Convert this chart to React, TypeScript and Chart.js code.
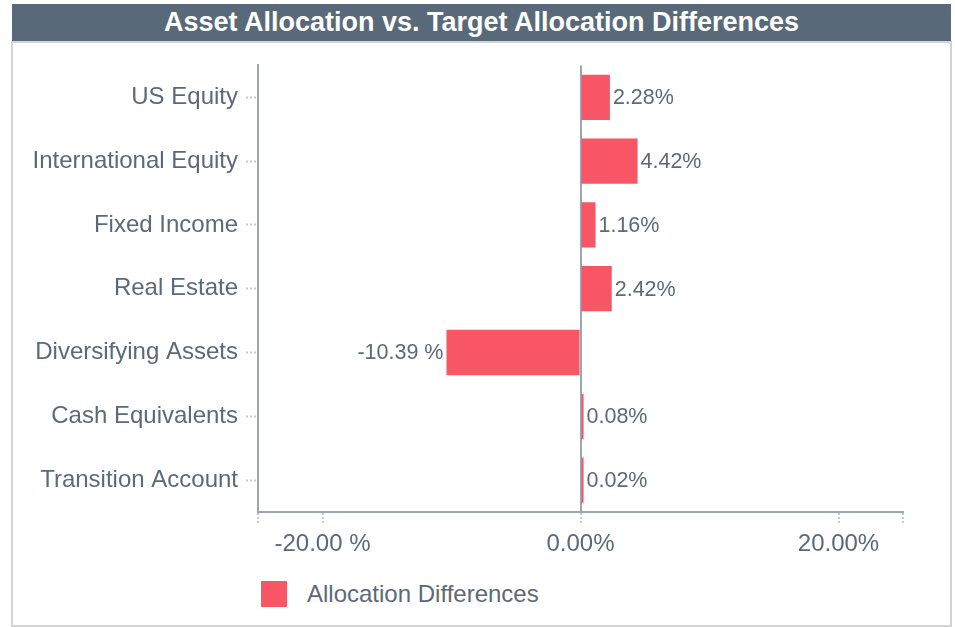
import React, { useEffect, useRef } from "react";
import { Chart, registerables } from "chart.js";

Chart.register(...registerables);

const title = "Asset Allocation vs. Target Allocation Differences";
const categories = [
  "US Equity",
  "International Equity",
  "Fixed Income",
  "Real Estate",
  "Diversifying Assets",
  "Cash Equivalents",
  "Transition Account",
];
const differences = [2.28, 4.42, 1.16, 2.42, -10.39, 0.08, 0.02];
const seriesName = "Allocation Differences";
const xTicks = [-25, -20, 0, 20, 25];
const xLabelled = [-20, 0, 20];

const TEXT = "#5a6a7a";
const BAR = "#f85565";
const AXIS = "#9aa6b2";
const DOT = "#c5cbd1";
const FONT = "Arial, 'Liberation Sans', Helvetica, sans-serif";

const fmt = (v: number) => (v < 0 ? v.toFixed(2) + " %" : v.toFixed(2) + "%");

const valueLabels = {
  id: "valueLabels",
  afterDatasetsDraw(chart: any) {
    const ctx = chart.ctx;
    const meta = chart.getDatasetMeta(0);
    ctx.save();
    ctx.font = `21.5px ${FONT}`;
    ctx.fillStyle = TEXT;
    ctx.textBaseline = "middle";
    meta.data.forEach((el: any, i: number) => {
      const v = differences[i];
      if (v < 0) {
        ctx.textAlign = "right";
        ctx.fillText(fmt(v), el.x - 3, el.y + 1);
      } else {
        ctx.textAlign = "left";
        ctx.fillText(fmt(v), el.x + 3, el.y + 1);
      }
    });
    ctx.restore();
  },
};

export default function App() {
  const ref = useRef<HTMLCanvasElement | null>(null);
  useEffect(() => {
    if (!ref.current) return;
    const chart = new Chart(ref.current, {
      type: "bar",
      data: {
        labels: categories,
        datasets: [
          {
            label: seriesName,
            data: differences,
            backgroundColor: BAR,
            borderWidth: 0,
            categoryPercentage: 0.71,
            barPercentage: 1,
            minBarLength: 3,
          },
        ],
      },
      options: {
        indexAxis: "y",
        animation: false,
        responsive: false,
        maintainAspectRatio: false,
        layout: { padding: { top: 21, right: 47, bottom: 0, left: 0 } },
        plugins: {
          legend: { display: false },
          tooltip: { enabled: false },
          title: { display: false },
        },
        scales: {
          x: {
            type: "linear",
            min: -25,
            max: 25,
            afterBuildTicks: (scale: any) => {
              scale.ticks = xTicks.map((v) => ({ value: v }));
            },
            afterFit: (scale: any) => {
              scale.height = 56;
            },
            border: { display: true, color: AXIS, width: 2 },
            grid: {
              drawOnChartArea: true,
              drawTicks: true,
              color: (c: any) => (c.tick && c.tick.value === 0 ? AXIS : "rgba(0,0,0,0)"),
              lineWidth: 2,
              tickLength: 11,
              tickColor: DOT,
              tickWidth: 2,
              tickBorderDash: [2, 2],
            },
            ticks: {
              autoSkip: false,
              maxRotation: 0,
              padding: 7,
              color: TEXT,
              font: { family: FONT, size: 24 },
              callback: (v: any) =>
                xLabelled.includes(Number(v)) ? fmt(Number(v)) : "",
            },
          },
          y: {
            afterFit: (scale: any) => {
              scale.width = 245;
            },
            border: { display: true, color: AXIS, width: 2 },
            grid: {
              offset: false,
              drawOnChartArea: false,
              drawTicks: true,
              tickLength: 12,
              tickColor: DOT,
              tickWidth: 2,
              tickBorderDash: [2, 2],
            },
            ticks: {
              padding: 8,
              color: TEXT,
              font: { family: FONT, size: 24 },
            },
          },
        },
      },
      plugins: [valueLabels],
    });
    return () => chart.destroy();
  }, []);

  return (
    <div style={{ position: "absolute", left: 0, top: 0, width: 955, height: 627, background: "#fff" }}>
      <div
        style={{
          position: "absolute",
          left: 12,
          top: 4,
          width: 939,
          height: 37,
          background: "#586a7a",
          color: "#fff",
          fontFamily: "'Liberation Sans Narrow', 'Arial Narrow', Arial, sans-serif",
          fontWeight: "bold",
          fontSize: 27,
          lineHeight: "37px",
          textAlign: "center",
          whiteSpace: "nowrap",
        }}
      >
        {title}
      </div>
      <div
        style={{
          position: "absolute",
          left: 11,
          top: 41,
          width: 941,
          height: 586,
          border: "2px solid #d4d4d4",
          boxSizing: "border-box",
        }}
      />
      <canvas
        ref={ref}
        width={937}
        height={525}
        style={{ position: "absolute", left: 13, top: 43, width: 937, height: 525 }}
      />
      <div style={{ position: "absolute", left: 261, top: 580, display: "flex", alignItems: "center" }}>
        <div style={{ width: 26, height: 26, background: BAR }} />
        <div
          style={{
            marginLeft: 20,
            color: TEXT,
            fontFamily: FONT,
            fontSize: 24,
            lineHeight: "28px",
            whiteSpace: "nowrap",
          }}
        >
          {seriesName}
        </div>
      </div>
    </div>
  );
}
